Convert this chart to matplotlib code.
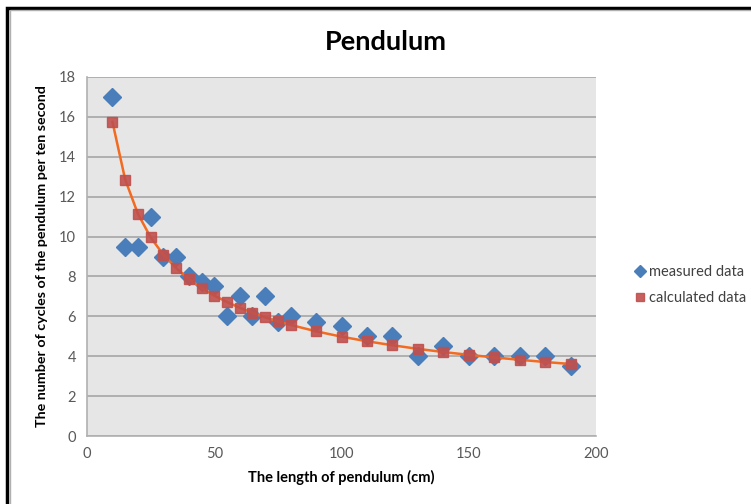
import numpy as np
import matplotlib.pyplot as plt
from matplotlib.patches import Rectangle

plt.rcParams['font.family'] = ['Lato', 'DejaVu Sans']

# measured data (blue diamonds)
length_meas = [10, 15, 20, 25, 30, 35, 40, 45, 50, 55, 60, 65, 70, 75, 80,
               90, 100, 110, 120, 130, 140, 150, 160, 170, 180, 190]
cycles_meas = [17.0, 9.5, 9.5, 11.0, 9.0, 9.0, 8.0, 7.7, 7.5, 6.0, 7.0, 6.0, 7.0,
               5.7, 6.0, 5.7, 5.5, 5.0, 5.0, 4.0, 4.5, 4.0, 4.0, 4.0, 4.0, 3.5]

# calculated data (red squares + orange line)
length_calc = [10, 15, 20, 25, 30, 35, 40, 45, 50, 55, 60, 65, 70, 75, 80,
               90, 100, 110, 120, 130, 140, 150, 160, 170, 180, 190]
cycles_calc = [15.75, 12.86, 11.14, 9.96, 9.09, 8.42, 7.88, 7.42, 7.04, 6.72,
               6.43, 6.18, 5.95, 5.75, 5.57, 5.25, 4.98, 4.75, 4.55, 4.37,
               4.21, 4.07, 3.94, 3.82, 3.71, 3.61]

fig = plt.figure(figsize=(7.51, 5.04), dpi=100)
ax = fig.add_axes([87 / 751, 1 - 436 / 504, 509 / 751, 359 / 504])

ax.set_facecolor('#E6E6E6')
ax.set_xlim(0, 200)
ax.set_ylim(0, 18)
ax.set_xticks(np.arange(0, 201, 50))
ax.set_yticks(np.arange(0, 19, 2))
ax.grid(axis='y', color='#A6A6A6', linewidth=1.2)
ax.set_axisbelow(True)
for s in ['top', 'right']:
    ax.spines[s].set_visible(False)
for s in ['left', 'bottom']:
    ax.spines[s].set_color('#B0B0B0')
    ax.spines[s].set_linewidth(1.2)
ax.tick_params(length=0, labelsize=10.5, colors='#595959', pad=8)

ax.plot(length_meas, cycles_meas, linestyle='none', marker='D', markersize=9,
        color='#4A7EBB', label='measured data', zorder=3)
ax.plot(length_calc, cycles_calc, color='#F26B21', linewidth=1.8, zorder=4)
ax.plot(length_calc, cycles_calc, linestyle='none', marker='s', markersize=7.5,
        color='#C0504D', alpha=0.9, label='calculated data', zorder=5)

fig.text(386 / 751, 1 - 42 / 504, 'Pendulum', fontsize=19.5, fontweight='bold',
         ha='center', va='center')
ax.set_xlabel('The length of pendulum (cm)', fontsize=10.5, fontweight='bold', labelpad=6)
ax.set_ylabel('The number of cycles of the pendulum per ten second', fontsize=10.3,
              fontweight='bold', labelpad=8)

ax.legend(loc='center left', bbox_to_anchor=(630 / 751, 1 - 285 / 504),
          bbox_transform=fig.transFigure, frameon=False, fontsize=10.5,
          markerscale=0.7, handlelength=0.6, handletextpad=0.3, labelspacing=0.85,
          borderaxespad=0, labelcolor='#404040')

# black frame around chart (only left and top visible in the crop)
fig.patches.append(Rectangle((7 / 751, -0.2), 2, 1.2 - 8 / 504,
                             transform=fig.transFigure, fill=False,
                             edgecolor='black', linewidth=2.5))
fig.patches.append(Rectangle((10 / 751, -0.2), 2, 1.2 - 10.5 / 504,
                             transform=fig.transFigure, fill=False,
                             edgecolor='#B0B0B0', linewidth=1))

fig.savefig('out.png', dpi=100)
